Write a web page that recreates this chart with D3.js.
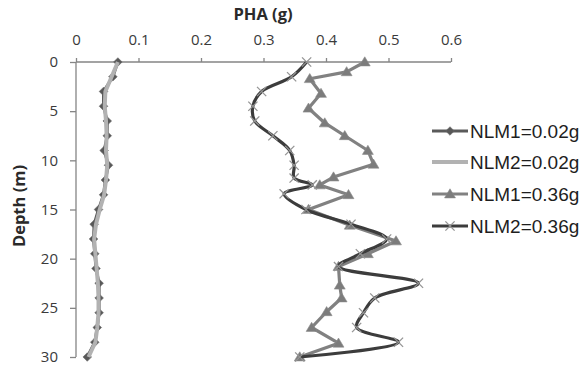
<!DOCTYPE html>
<html>
<head>
<meta charset="utf-8">
<script src="https://cdn.jsdelivr.net/npm/d3@7"></script>
<style>
  html, body { margin: 0; padding: 0; background: #fff; }
  svg { display: block; }
</style>
</head>
<body>
<svg id="chart" width="585" height="367"></svg>
<script>
// PHA (g) profiles against depth (m) for two nutrient levels
const depthsLow = [0, 1.5, 3, 4.5, 6, 7.5, 9, 10.5, 12, 13.5, 15, 16.5, 18, 19.5, 21, 22.5, 24, 25.5, 27, 28.5, 30];
const nlm1Low = [0.067, 0.059, 0.044, 0.044, 0.050, 0.050, 0.045, 0.052, 0.047, 0.044, 0.036, 0.029, 0.028, 0.030, 0.032, 0.037, 0.037, 0.037, 0.034, 0.030, 0.018];
const nlm2Low = [0.067, 0.057, 0.047, 0.046, 0.048, 0.049, 0.048, 0.050, 0.048, 0.045, 0.038, 0.032, 0.029, 0.031, 0.033, 0.035, 0.036, 0.036, 0.034, 0.031, 0.020];

const depthsNlm1High = [0, 1, 1.7, 3.2, 4.7, 6.2, 7.5, 9, 10.4, 11.7, 12.5, 13.5, 15, 16.6, 18.2, 19.5, 20.8, 22.7, 24, 25.4, 27, 28.6, 30];
const nlm1High = [0.462, 0.433, 0.374, 0.392, 0.372, 0.398, 0.430, 0.467, 0.476, 0.412, 0.390, 0.436, 0.372, 0.438, 0.512, 0.467, 0.420, 0.422, 0.425, 0.401, 0.377, 0.420, 0.358];

const depthsNlm2High = [0, 1.5, 3, 4.5, 6, 7.5, 9, 10.5, 11.8, 12.5, 13.4, 15, 16.5, 18, 19.5, 20.8, 22.5, 24, 25.5, 27, 28.5, 30];
const nlm2High = [0.369, 0.345, 0.297, 0.283, 0.286, 0.315, 0.342, 0.349, 0.349, 0.378, 0.333, 0.368, 0.440, 0.497, 0.455, 0.420, 0.548, 0.478, 0.460, 0.449, 0.516, 0.358];

const xTicks = [0, 0.1, 0.2, 0.3, 0.4, 0.5, 0.6];
const xTickLabels = ["0", "0.1", "0.2", "0.3", "0.4", "0.5", "0.6"];
const yTicks = [0, 5, 10, 15, 20, 25, 30];

const seriesNames = ["NLM1=0.02g", "NLM2=0.02g", "NLM1=0.36g", "NLM2=0.36g"];

const svg = d3.select("#chart");
const x = d3.scaleLinear().domain([0, 0.6]).range([76, 451]);
const y = d3.scaleLinear().domain([0, 30]).range([62, 357]);

const axisColor = "#858585";
const labelColor = "#3a3a3a";
const tickFont = "'Open Sans', 'DejaVu Sans', sans-serif";

// top axis
const gx = svg.append("g").attr("transform", `translate(0,${y(0)})`)
  .call(d3.axisTop(x).tickValues(xTicks).tickFormat((d, i) => xTickLabels[i]).tickSize(4).tickPadding(13));
// left axis
const gy = svg.append("g").attr("transform", `translate(${x(0)},0)`)
  .call(d3.axisLeft(y).tickValues(yTicks).tickSize(6).tickPadding(12));

[gx, gy].forEach(g => {
  g.select(".domain").attr("stroke", axisColor).attr("stroke-width", 1.3);
  g.selectAll(".tick line").attr("stroke", axisColor).attr("stroke-width", 1.3);
  g.selectAll(".tick text").attr("fill", labelColor)
    .style("font-family", tickFont).style("font-size", "15px");
});
gx.select(".domain").attr("d", `M${x(0)},0H${x(0.6)}`);
gy.select(".domain").attr("d", `M0,${y(0)}V${y(30)}`);

// axis titles
svg.append("text").attr("x", 263).attr("y", 20).attr("text-anchor", "middle")
  .style("font-family", tickFont).style("font-weight", "bold").style("font-size", "16.5px")
  .attr("fill", "#2a2a2a").text("PHA (g)");
svg.append("text").attr("transform", "translate(25,206) rotate(-90)").attr("text-anchor", "middle")
  .style("font-family", tickFont).style("font-weight", "bold").style("font-size", "16.5px")
  .attr("fill", "#2a2a2a").text("Depth (m)");

const pts = (ds, vs) => ds.map((d, i) => [vs[i], d]);
const straight = d3.line().x(p => x(p[0])).y(p => y(p[1]));
const smooth = d3.line().x(p => x(p[0])).y(p => y(p[1])).curve(d3.curveCatmullRom.alpha(0.5));

const diamond = s => `M0,${-s}L${s},0L0,${s}L${-s},0Z`;
const triangle = s => `M0,${-s}L${s * 1.05},${s * 0.75}L${-s * 1.05},${s * 0.75}Z`;
const cross = s => `M${-s},${-s}L${s},${s}M${-s},${s}L${s},${-s}`;

const styles = [
  { color: "#5a5a5a", width: 3, marker: "diamond" },
  { color: "#b2b2b2", width: 4, marker: null },
  { color: "#818181", width: 3.2, marker: "triangle" },
  { color: "#3c3c3c", width: 3.2, marker: "cross" }
];

function drawMarker(g, type, cx, cy) {
  if (type === "diamond") {
    g.append("path").attr("d", diamond(4.3)).attr("transform", `translate(${cx},${cy})`)
      .attr("fill", "#585858").attr("stroke", "#6a6a6a").attr("stroke-width", 0.6);
  } else if (type === "triangle") {
    g.append("path").attr("d", triangle(5.2)).attr("transform", `translate(${cx},${cy})`)
      .attr("fill", "#7c7c7c").attr("stroke", "#8a8a8a").attr("stroke-width", 0.6);
  } else if (type === "cross") {
    g.append("path").attr("d", cross(4.6)).attr("transform", `translate(${cx},${cy})`)
      .attr("fill", "none").attr("stroke", "#959595").attr("stroke-width", 1.3);
  }
}

const plot = svg.append("g");

// NLM1=0.02g: line with diamonds
const s1 = pts(depthsLow, nlm1Low);
plot.append("path").attr("d", straight(s1)).attr("fill", "none")
  .attr("stroke", styles[0].color).attr("stroke-width", styles[0].width).attr("stroke-linejoin", "round");
s1.forEach(p => drawMarker(plot, "diamond", x(p[0]), y(p[1])));

// NLM2=0.02g: plain light line
const s2 = pts(depthsLow, nlm2Low);
plot.append("path").attr("d", straight(s2)).attr("fill", "none")
  .attr("stroke", styles[1].color).attr("stroke-width", styles[1].width).attr("stroke-linejoin", "round");

// NLM1=0.36g: line with triangles
const s3 = pts(depthsNlm1High, nlm1High);
plot.append("path").attr("d", straight(s3)).attr("fill", "none")
  .attr("stroke", styles[2].color).attr("stroke-width", styles[2].width).attr("stroke-linejoin", "round");
s3.forEach(p => drawMarker(plot, "triangle", x(p[0]), y(p[1])));

// NLM2=0.36g: smoothed dark line with crosses
const s4 = pts(depthsNlm2High, nlm2High);
plot.append("path").attr("d", smooth(s4)).attr("fill", "none")
  .attr("stroke", styles[3].color).attr("stroke-width", styles[3].width).attr("stroke-linejoin", "round");
s4.forEach(p => drawMarker(plot, "cross", x(p[0]), y(p[1])));

// legend
const legendY = [131, 162, 194, 226];
const legend = svg.append("g");
seriesNames.forEach((name, i) => {
  const ly = legendY[i];
  legend.append("line").attr("x1", 432).attr("x2", 468).attr("y1", ly).attr("y2", ly)
    .attr("stroke", styles[i].color).attr("stroke-width", styles[i].width);
  if (styles[i].marker) drawMarker(legend, styles[i].marker, 450, ly);
  legend.append("text").attr("x", 470).attr("y", ly + 6.8)
    .style("font-family", "'Liberation Sans', Arial, sans-serif").style("font-size", "19px")
    .attr("fill", "#1e1e1e").text(name);
});
</script>
</body>
</html>
